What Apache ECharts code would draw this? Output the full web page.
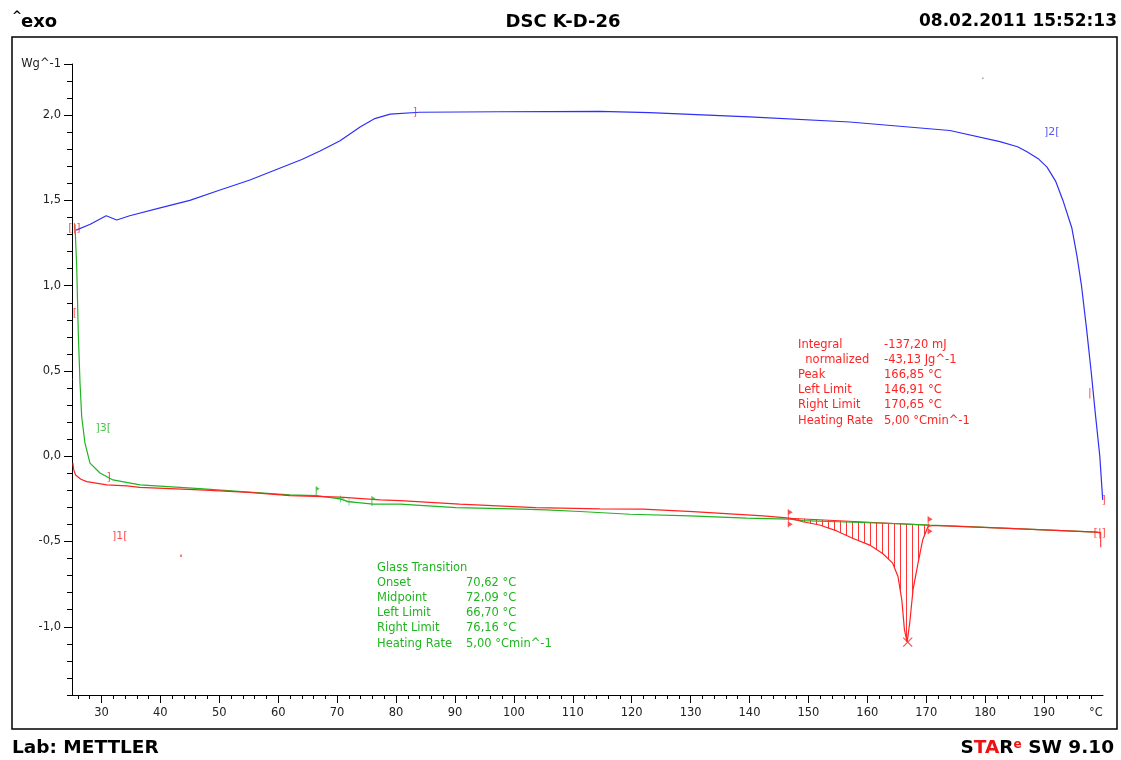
<!DOCTYPE html>
<html>
<head>
<meta charset="utf-8">
<title>DSC K-D-26</title>
<script src="https://cdn.jsdelivr.net/npm/echarts@6/dist/echarts.min.js"></script>
<style>
  html, body { margin: 0; padding: 0; background: #fff; }
  #chart { width: 1121px; height: 760px; }
</style>
</head>
<body>
<div id="chart"></div>
<script>
// segment 2 (blue)
const blueTemp = [25.7, 28.1, 30.8, 32.6, 34.8, 39.8, 45.0, 50.0, 55.2, 59.6, 64.0, 67.1, 70.5, 73.9, 76.4, 79.0, 84.0, 97.6, 114.6, 123.0, 140.0, 157.0, 174.0, 182.5, 185.5, 187.1, 189.0, 190.5, 192.0, 193.2, 194.7, 195.6, 196.35, 197.2, 197.98, 198.7, 199.46, 199.95];
const blueSignal = [1.326, 1.36, 1.41, 1.385, 1.41, 1.455, 1.50, 1.56, 1.62, 1.68, 1.74, 1.79, 1.85, 1.93, 1.98, 2.006, 2.017, 2.02, 2.022, 2.015, 1.99, 1.96, 1.91, 1.845, 1.815, 1.785, 1.745, 1.695, 1.61, 1.50, 1.34, 1.17, 1.0, 0.75, 0.5, 0.25, 0.0, -0.256];

// segment 1 (red)
const redTemp = [25.15, 25.3, 25.6, 26.5, 27.5, 30.9, 34.3, 36.5, 46.7, 55.0, 62.0, 70.5, 77.3, 80.7, 90.8, 103.7, 114.6, 121.9, 130.4, 136.7, 142.3, 146.8, 149.05, 151.9, 154.8, 157.5, 160.4, 162.6, 164.3, 165.2, 165.85, 166.3, 166.75, 167.2, 167.75, 168.6, 169.4, 170.3, 171.1, 177.4, 185.0, 192.0, 198.9, 199.6];
const redSignal = [-0.04, -0.08, -0.11, -0.135, -0.149, -0.168, -0.174, -0.182, -0.197, -0.212, -0.231, -0.24, -0.256, -0.26, -0.281, -0.301, -0.309, -0.31, -0.325, -0.338, -0.35, -0.363, -0.384, -0.403, -0.438, -0.481, -0.521, -0.57, -0.627, -0.705, -0.842, -1.018, -1.09, -0.976, -0.784, -0.627, -0.49, -0.412, -0.406, -0.414, -0.425, -0.435, -0.445, -0.45];

// segment 3 (green)
const greenTemp = [25.5, 25.8, 26.07, 26.36, 26.65, 27.2, 28.05, 29.75, 31.96, 36.54, 46.7, 55.0, 62.0, 66.5, 70.5, 71.9, 76.1, 80.7, 90.2, 99.8, 105.5, 111.2, 119.7, 129.9, 139.5, 146.8, 149.05, 157.5, 166.0, 170.6, 175.2, 185.0, 192.0, 198.9, 199.6];
const greenSignal = [1.36, 1.11, 0.72, 0.43, 0.23, 0.078, -0.04, -0.098, -0.139, -0.168, -0.19, -0.21, -0.227, -0.231, -0.25, -0.266, -0.281, -0.281, -0.301, -0.309, -0.315, -0.324, -0.34, -0.35, -0.363, -0.369, -0.377, -0.387, -0.397, -0.404, -0.41, -0.425, -0.435, -0.445, -0.448];

// evaluation marks
const peakLimits = [[146.91, -0.364], [170.65, -0.405]];
const peakMax = [[166.85, -1.09]];
const tgLimits = [[66.7, -0.205], [76.16, -0.262]];
const tgPoints = [[70.62, -0.25], [72.09, -0.268]];
const endSpike = [[199.6, -0.49]];
const strayDots = [[43.5, -0.584]];
const greyDots = [[179.6, 2.217]];

// curve labels [temp, value, text]
const redBrackets = [[25.4, 1.336, '[|]'], [25.5, 0.84, '['], [31.2, -0.12, ']'], [33.1, -0.467, ']1['], [83.2, 2.017, ']'], [197.75, 0.37, '|'], [200.1, -0.256, ']'], [199.45, -0.45, '[|]']];
const greenBrackets = [[30.3, 0.166, ']3[']];
const blueBrackets = [[191.3, 1.9, ']2[']];

// axes
const xMajorTicks = [30, 40, 50, 60, 70, 80, 90, 100, 110, 120, 130, 140, 150, 160, 170, 180, 190];
const xUnitPos = 198.8;
const yMajorTicks = [-1.0, -0.5, 0.0, 0.5, 1.0, 1.5, 2.0, 2.3];

// texts
const peakLabels = ['Integral', '  normalized', 'Peak', 'Left Limit', 'Right Limit', 'Heating Rate'];
const peakValues = ['-137,20 mJ', '-43,13 Jg^-1', '166,85 °C', '146,91 °C', '170,65 °C', '5,00 °Cmin^-1'];
const tgLabels = ['Glass Transition', 'Onset', 'Midpoint', 'Left Limit', 'Right Limit', 'Heating Rate'];
const tgValues = ['', '70,62 °C', '72,09 °C', '66,70 °C', '76,16 °C', '5,00 °Cmin^-1'];

const RED = '#ff2222';
const GREEN = '#1fb51f';
const BLUE = '#2f2ff5';
const FONT = '"DejaVu Sans", Verdana, sans-serif';

const xMinorTicks = [];
for (let t = 26; t <= 198; t += 2) {
    if (t % 10 !== 0) xMinorTicks.push(t);
}

const zip = (a, b) => a.map((v, i) => [v, b[i]]);

// hatch pattern for the integrated peak
const hatch = document.createElement('canvas');
hatch.width = 6;
hatch.height = 4;
const hctx = hatch.getContext('2d');
hctx.fillStyle = 'rgba(255,30,30,0.9)';
hctx.fillRect(0, 0, 1, 4);

const hatchPolygon = [peakLimits[0]]
    .concat(zip(redTemp, redSignal).filter(p => p[0] > peakLimits[0][0] && p[0] < peakLimits[1][0]))
    .concat([peakLimits[1]]);

function bracketSeries(list, color) {
    return {
        type: 'scatter',
        data: list.map(d => ({ value: [d[0], d[1]], name: d[2] })),
        symbolSize: 0,
        clip: false,
        silent: true,
        z: 5,
        label: {
            show: true,
            position: 'inside',
            formatter: p => p.name,
            color: color,
            fontSize: 11,
            fontFamily: FONT
        }
    };
}

function markSeries(list, symbol, size, color, extra) {
    return Object.assign({
        type: 'scatter',
        data: list,
        symbol: symbol,
        symbolSize: size,
        clip: false,
        silent: true,
        z: 6,
        itemStyle: { color: color }
    }, extra || {});
}

function textBlock(lines, x, y, color) {
    return {
        type: 'text',
        x: x,
        y: y,
        silent: true,
        style: {
            text: lines.join('\n'),
            fill: color,
            font: '11.5px ' + FONT,
            lineHeight: 15.1,
            verticalAlign: 'top'
        }
    };
}

const chart = echarts.init(document.getElementById('chart'));

chart.setOption({
    animation: false,
    backgroundColor: '#fff',
    grid: { left: 72, right: 18, top: 64, bottom: 65 },
    xAxis: [
        {
            type: 'value',
            min: 25,
            max: 200,
            position: 'bottom',
            axisLine: { show: true, onZero: false, lineStyle: { color: '#000', width: 1 } },
            axisTick: { show: true, customValues: xMajorTicks, length: 8, lineStyle: { color: '#000' } },
            axisLabel: {
                customValues: xMajorTicks.concat([xUnitPos]),
                formatter: v => (v === xUnitPos ? '°C' : String(v)),
                color: '#222',
                fontSize: 11.5,
                fontFamily: FONT,
                margin: 12
            },
            splitLine: { show: false }
        },
        {
            type: 'value',
            min: 25,
            max: 200,
            position: 'bottom',
            axisLine: { show: false, onZero: false },
            axisTick: { show: true, customValues: xMinorTicks, length: 4, lineStyle: { color: '#000' } },
            axisLabel: { show: false },
            splitLine: { show: false }
        }
    ],
    yAxis: [
        {
            type: 'value',
            min: -1.4,
            max: 2.3,
            interval: 0.1,
            position: 'left',
            axisLine: { show: true, onZero: false, lineStyle: { color: '#000', width: 1 } },
            axisTick: { show: true, length: 5, lineStyle: { color: '#000' } },
            axisLabel: { show: false },
            splitLine: { show: false }
        },
        {
            type: 'value',
            min: -1.4,
            max: 2.3,
            position: 'left',
            axisLine: { show: false, onZero: false },
            axisTick: { show: true, customValues: yMajorTicks, length: 8, lineStyle: { color: '#000' } },
            axisLabel: {
                customValues: yMajorTicks,
                formatter: v => (Math.abs(v - 2.3) < 1e-6 ? 'Wg^-1' : v.toFixed(1).replace('.', ',')),
                color: '#222',
                fontSize: 11.5,
                fontFamily: FONT,
                margin: 11
            },
            splitLine: { show: false }
        }
    ],
    series: [
        {
            type: 'custom',
            coordinateSystem: 'cartesian2d',
            data: [peakLimits[0]],
            silent: true,
            z: 1,
            renderItem: function (params, api) {
                const pts = hatchPolygon.map(p => api.coord(p));
                return {
                    type: 'polygon',
                    shape: { points: pts },
                    style: { fill: { image: hatch, repeat: 'repeat' }, stroke: null }
                };
            }
        },
        {
            type: 'line',
            data: peakLimits,
            symbol: 'none',
            silent: true,
            z: 2,
            lineStyle: { color: RED, width: 1 }
        },
        {
            type: 'line',
            data: zip(blueTemp, blueSignal),
            symbol: 'none',
            silent: true,
            z: 3,
            lineStyle: { color: BLUE, width: 1.2 }
        },
        {
            type: 'line',
            data: zip(greenTemp, greenSignal),
            symbol: 'none',
            silent: true,
            z: 3,
            lineStyle: { color: GREEN, width: 1.2 }
        },
        {
            type: 'line',
            data: zip(redTemp, redSignal),
            symbol: 'none',
            silent: true,
            z: 4,
            lineStyle: { color: RED, width: 1.2 }
        },
        bracketSeries(redBrackets, RED),
        bracketSeries(greenBrackets, GREEN),
        bracketSeries(blueBrackets, BLUE),
        markSeries(peakLimits, 'path://M0,0L5,3L0,6Z M0,12L5,15L0,18Z M0.2,0L1,0L1,18L0.2,18Z', [5, 18], RED),
        markSeries(peakMax, 'path://M0,0L10,10M10,0L0,10', 9, 'none', {
            itemStyle: { color: 'none', borderColor: RED, borderWidth: 1.2 }
        }),
        markSeries(tgLimits, 'path://M0,0L4,2.5L0,5Z M0,0L1,0L1,10L0,10Z', [4, 10], GREEN),
        markSeries(tgPoints, 'path://M0,4L10,4L10,5L0,5Z M4,0L5,0L5,9L4,9Z', 7, GREEN),
        markSeries(endSpike, 'rect', [1.3, 15], RED),
        markSeries(strayDots, 'rect', [1.5, 2.5], RED),
        markSeries(greyDots, 'rect', [1.5, 1.5], '#888')
    ],
    graphic: [
        {
            type: 'rect',
            silent: true,
            shape: { x: 12, y: 37, width: 1105, height: 692 },
            style: { fill: null, stroke: '#000', lineWidth: 1.5 }
        },
        {
            type: 'text', x: 12, y: 17, silent: true,
            style: { text: '^', fill: '#000', font: 'bold 12px ' + FONT, verticalAlign: 'middle' }
        },
        {
            type: 'text', x: 21, y: 22, silent: true,
            style: { text: 'exo', fill: '#000', font: 'bold 18px ' + FONT, verticalAlign: 'middle' }
        },
        {
            type: 'text', x: 563, y: 22, silent: true,
            style: { text: 'DSC K-D-26', fill: '#000', font: 'bold 18px ' + FONT, align: 'center', verticalAlign: 'middle' }
        },
        {
            type: 'text', x: 1117, y: 22, silent: true,
            style: { text: '08.02.2011 15:52:13', fill: '#000', font: 'bold 17px ' + FONT, align: 'right', verticalAlign: 'middle' }
        },
        {
            type: 'text', x: 12, y: 748, silent: true,
            style: { text: 'Lab: METTLER', fill: '#000', font: 'bold 18.5px ' + FONT, verticalAlign: 'middle' }
        },
        {
            type: 'text', x: 1114, y: 748, silent: true,
            style: {
                text: '{k|S}{r|TA}{k|R}{e|e}{k| SW 9.10}',
                align: 'right',
                verticalAlign: 'middle',
                rich: {
                    k: { fill: '#000', fontSize: 18.5, fontWeight: 'bold', fontFamily: FONT },
                    r: { fill: '#ee1111', fontSize: 18.5, fontWeight: 'bold', fontFamily: FONT },
                    e: { fill: '#ee1111', fontSize: 12, fontWeight: 'bold', fontFamily: FONT, verticalAlign: 'top' }
                }
            }
        },
        textBlock(peakLabels, 798, 337.5, RED),
        textBlock(peakValues, 884, 337.5, RED),
        textBlock(tgLabels, 377, 560.5, GREEN),
        textBlock(tgValues, 466, 560.5, GREEN)
    ]
});
</script>
</body>
</html>
